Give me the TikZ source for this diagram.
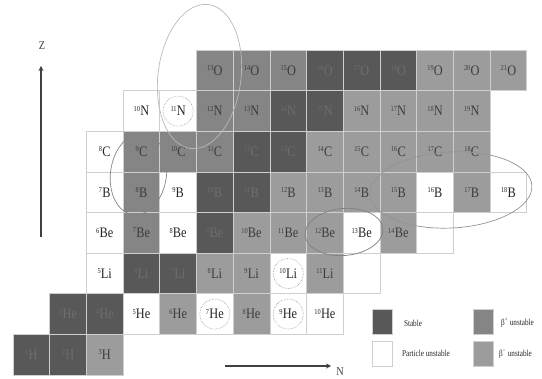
\documentclass[tikz,border=0pt]{standalone}
\usepackage{fontspec}
\setmainfont{Liberation Serif}[FakeStretch=0.85]
\newfontfamily\legfont{Liberation Serif}[FakeStretch=0.8]
\usetikzlibrary{shapes.geometric,arrows.meta}
\definecolor{gridc}{HTML}{CFCFCF}
\definecolor{stc}{HTML}{585858}
\definecolor{bpc}{HTML}{858585}
\definecolor{bmc}{HTML}{9C9C9C}
\definecolor{sttext}{HTML}{6E6E6E}
\definecolor{gtext}{HTML}{3C3C3C}
\definecolor{wtext}{HTML}{262626}
\definecolor{axisc}{HTML}{404040}
\newcommand\isolab[2]{\raisebox{4.6pt}{\fontsize{7.5}{7.5}\selectfont #1}\kern0.2pt#2}
\tikzset{
  cellbox/.style={draw=gridc, line width=0.8pt, minimum width=36.7pt, minimum height=40.6pt, inner sep=0pt, font=\fontsize{14.5}{14.5}\selectfont},
  stcell/.style={fill=stc, text=sttext},
  bpcell/.style={fill=bpc, text=gtext},
  bmcell/.style={fill=bmc, text=gtext},
  pucell/.style={fill=white, text=wtext},
  dotcirc/.style={draw=gray!80, densely dotted, line width=0.6pt, circle, minimum size=30pt, inner sep=0pt},
  ann/.style={ellipse, inner sep=0pt, line width=0.7pt},
  axisarrow/.style={draw=axisc, line width=1.3pt, -{Stealth[length=5pt,width=5pt]}},
  legbox/.style={minimum width=20pt, minimum height=25pt, inner sep=0pt, draw=gridc, line width=0.6pt},
  legtext/.style={font=\legfont\fontsize{9}{9}\selectfont, text=wtext, inner sep=0pt}
}
\begin{document}
\begin{tikzpicture}[x=1pt,y=-1pt]
\useasboundingbox (0,0) rectangle (542,379);
\foreach \n/\z/\a/\el/\s in {
 5/8/13/O/bpcell, 6/8/14/O/bpcell, 7/8/15/O/bpcell, 8/8/16/O/stcell, 9/8/17/O/stcell, 10/8/18/O/stcell, 11/8/19/O/bmcell, 12/8/20/O/bmcell, 13/8/21/O/bmcell,
 3/7/10/N/pucell, 4/7/11/N/pucell, 5/7/12/N/bpcell, 6/7/13/N/bpcell, 7/7/14/N/stcell, 8/7/15/N/stcell, 9/7/16/N/bmcell, 10/7/17/N/bmcell, 11/7/18/N/bmcell, 12/7/19/N/bmcell,
 2/6/8/C/pucell, 3/6/9/C/bpcell, 4/6/10/C/bpcell, 5/6/11/C/bpcell, 6/6/12/C/stcell, 7/6/13/C/stcell, 8/6/14/C/bmcell, 9/6/15/C/bmcell, 10/6/16/C/bmcell, 11/6/17/C/bmcell, 12/6/18/C/bmcell,
 2/5/7/B/pucell, 3/5/8/B/bpcell, 4/5/9/B/pucell, 5/5/10/B/stcell, 6/5/11/B/stcell, 7/5/12/B/bmcell, 8/5/13/B/bmcell, 9/5/14/B/bmcell, 10/5/15/B/bmcell, 11/5/16/B/pucell, 12/5/17/B/bmcell, 13/5/18/B/pucell,
 2/4/6/Be/pucell, 3/4/7/Be/bpcell, 4/4/8/Be/pucell, 5/4/9/Be/stcell, 6/4/10/Be/bmcell, 7/4/11/Be/bmcell, 8/4/12/Be/bmcell, 9/4/13/Be/pucell, 10/4/14/Be/bmcell,
 2/3/5/Li/pucell, 3/3/6/Li/stcell, 4/3/7/Li/stcell, 5/3/8/Li/bmcell, 6/3/9/Li/bmcell, 7/3/10/Li/pucell, 8/3/11/Li/bmcell,
 1/2/3/He/stcell, 2/2/4/He/stcell, 3/2/5/He/pucell, 4/2/6/He/bmcell, 5/2/7/He/pucell, 6/2/8/He/bmcell, 7/2/9/He/pucell, 8/2/10/He/pucell,
 0/1/1/H/stcell, 1/1/2/H/stcell, 2/1/3/H/bmcell}
{
  \node[cellbox,\s] (c-\z-\n) at ({13+36.7*(\n+0.5)},{375-40.6*(\z-0.5)}) {\isolab{\a}{\el}};
}
% empty cells
\node[cellbox,pucell] (c-4-11) at ({13+36.7*11.5},{375-40.6*3.5}) {};
\node[cellbox,pucell] (c-3-9) at ({13+36.7*9.5},{375-40.6*2.5}) {};
% dotted circles
\node[dotcirc] (d1) at (c-7-4) {};
\node[dotcirc] (d2) at (c-3-7) {};
\node[dotcirc] (d3) at (c-2-5) {};
\node[dotcirc] (d4) at (c-2-7) {};
% annotation ellipses
\node[ann, draw=gray!55, minimum width=83pt, minimum height=145pt, rotate=-7] (e1) at (199.5,76.5) {};
\node[ann, draw=gray!95, minimum width=56pt, minimum height=82pt, rotate=-8] (e2) at (138.5,174) {};
\node[ann, draw=gray!85, minimum width=162pt, minimum height=76pt, rotate=3] (e3) at (451,190) {};
\node[ann, draw=gray!100, minimum width=78pt, minimum height=47pt, rotate=5] (e4) at (344,232) {};
% axes
\coordinate (z0) at (41,237);
\coordinate (z1) at (41,66);
\draw[axisarrow] (z0) -- (z1);
\node[font=\fontsize{12}{12}\selectfont, text=axisc] (zl) at (42,46) {Z};
\coordinate (n0) at (225,366);
\coordinate (n1) at (331,366);
\draw[axisarrow] (n0) -- (n1);
\node[font=\fontsize{12}{12}\selectfont, text=axisc] (nl) at (340,372) {N};
% legend
\node[legbox, fill=stc] (l1) at (382,321.5) {};
\node[legbox, fill=white] (l2) at (382,353.5) {};
\node[legbox, fill=bpc] (l3) at (483,321.5) {};
\node[legbox, fill=bmc] (l4) at (483,353.5) {};
\node[legtext] (t1) at (413,323) {Stable};
\node[legtext] (t2) at (426,353.5) {Particle unstable};
\node[legtext] (t3) at (517.5,323) {β\textsuperscript{+} unstable};
\node[legtext] (t4) at (515.5,354) {β\textsuperscript{−} unstable};
\end{tikzpicture}
\end{document}
